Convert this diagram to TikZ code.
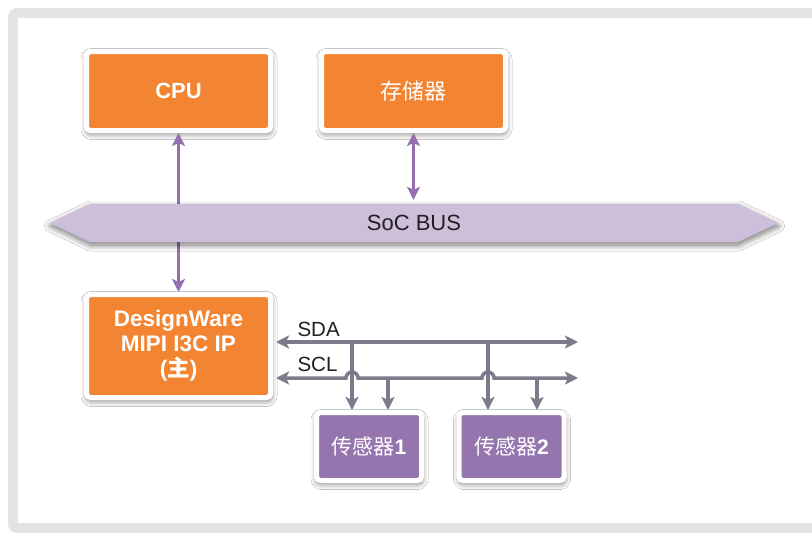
\documentclass[tikz,border=0pt]{standalone}
\usepackage{fontspec}
\setmainfont{Liberation Sans}
\newfontfamily\cjk{Noto Sans CJK SC}
\usetikzlibrary{arrows.meta,shapes.symbols,shadows.blur}
\definecolor{frameGrey}{HTML}{E4E4E4}
\definecolor{unitOrange}{HTML}{F28432}
\definecolor{unitPurple}{HTML}{9575AE}
\definecolor{busLilac}{HTML}{CDBFDA}
\definecolor{linkPurple}{HTML}{9570B0}
\definecolor{wireGrey}{HTML}{7B7B8C}
\definecolor{labelDark}{HTML}{231F20}

\begin{document}
\begin{tikzpicture}
[
    x=1pt, y=-1pt,
    every node/.style={font=\fontsize{22}{25}\selectfont},
    softshadow/.style={blur shadow={shadow xshift=0.5pt, shadow yshift=-3pt, shadow blur radius=6pt,
        shadow blur steps=12, shadow opacity=55}},
    unit/.style={draw=white, line width=5pt, rounded corners=4pt, fill=unitOrange, text=white,
        minimum width=184pt, minimum height=79pt, align=center, softshadow},
    sensor/.style={unit, fill=unitPurple, minimum width=105pt, minimum height=68pt,
        font=\fontsize{21}{24}\selectfont},
    bus/.style={signal, signal to=west and east, signal pointer angle=51, fill=busLilac,
        minimum width=728pt, minimum height=38pt, inner sep=0pt, text=labelDark, softshadow},
    link/.style={draw=linkPurple, line width=3pt,
        {Stealth[length=13pt, width=13pt, inset=3pt]}-{Stealth[length=13pt, width=13pt, inset=3pt]}},
    wire/.style={draw=wireGrey, line width=3.5pt},
    tip/.style={-{Stealth[length=13pt, width=13pt, inset=3pt]}},
    twotip/.style={{Stealth[length=13pt, width=13pt, inset=3pt]}-{Stealth[length=13pt, width=13pt, inset=3pt]}},
]
\clip (0,0) rectangle (812,536);
\fill[frameGrey, rounded corners=9pt] (8,8) rectangle (840,533);
\fill[white] (18,18) rectangle (840,523);

\node (cpu) [unit, font=\fontsize{22}{25}\selectfont\bfseries] at (178.5,91) {CPU};
\node (dw) [unit, minimum height=103pt, font=\fontsize{22.5}{25}\selectfont\bfseries] at (178.5,346)
    {DesignWare\\MIPI I3C IP\\({\cjk 主})};
\draw[link] (cpu.south) -- (dw.north);
\node (bus) [bus] at (414,223) {SoC BUS};
\node (mem) [unit] at (413.5,91) {\cjk 存储器};
\draw[link, shorten >=4pt] (mem.south) -- (mem.south |- bus.north);

\node (s1) [sensor] at (369,446.5) {{\cjk 传感器}\textbf{1}};
\node (s2) [sensor] at (511.5,446.5) {{\cjk 传感器}\textbf{2}};

\coordinate (sdaW) at (276,342);
\coordinate (sdaE) at (578,342);
\coordinate (sclW) at (276,378);
\coordinate (sclE) at (578,378);
\coordinate (d1) at (352,342);
\coordinate (d2) at (488,342);
\coordinate (c1) at (388,378);
\coordinate (c2) at (537,378);

\node (sda) [anchor=base west, text=labelDark, font=\fontsize{20.5}{24}\selectfont] at (294,336) {SDA};
\node (scl) [anchor=base west, text=labelDark, font=\fontsize{20.5}{24}\selectfont] at (294,371) {SCL};

\draw[wire, twotip] (sdaW) -- (sdaE);
\draw[wire, twotip] (sclW) -- ([xshift=-6pt]d1 |- sclW) arc[start angle=180, end angle=0, radius=6pt]
    -- ([xshift=-6pt]d2 |- sclW) arc[start angle=180, end angle=0, radius=6pt] -- (sclE);
\draw[wire, tip] (d1) -- (d1 |- s1.north);
\draw[wire, tip] (c1) -- (c1 |- s1.north);
\draw[wire, tip] (d2) -- (d2 |- s2.north);
\draw[wire, tip] (c2) -- (c2 |- s2.north);
\end{tikzpicture}
\end{document}
